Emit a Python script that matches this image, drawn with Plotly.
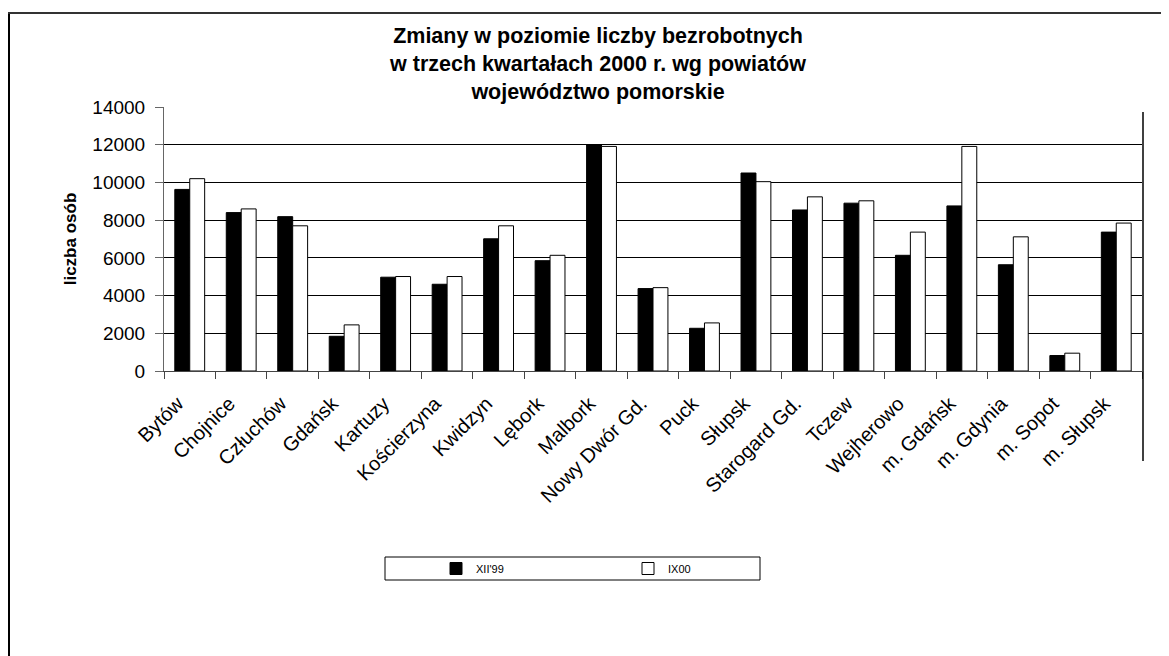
import plotly.graph_objects as go

categories = ["Bytów", "Chojnice", "Człuchów", "Gdańsk", "Kartuzy", "Kościerzyna",
              "Kwidzyn", "Lębork", "Malbork", "Nowy Dwór Gd.", "Puck", "Słupsk",
              "Starogard Gd.", "Tczew", "Wejherowo", "m. Gdańsk", "m. Gdynia",
              "m. Sopot", "m. Słupsk"]
xii_99 = [9630, 8400, 8185, 1840, 4975, 4600, 7010, 5850, 11990, 4370, 2265,
          10500, 8540, 8900, 6135, 8755, 5635, 820, 7365]
ix_00 = [10200, 8595, 7700, 2445, 5010, 5010, 7700, 6135, 11910, 4420, 2550,
         10040, 9235, 9025, 7365, 11910, 7115, 945, 7845]
series_names = ["XII'99", "IX00"]
y_ticks = [0, 2000, 4000, 6000, 8000, 10000, 12000, 14000]
title_lines = ["Zmiany w poziomie liczby bezrobotnych",
               "w trzech kwartałach 2000 r. wg powiatów",
               "województwo pomorskie"]
y_title = "liczba osób"

FONT = "Arial, Liberation Sans, sans-serif"

# page offset (default body margin of the html page)
OFF = 8
W, H = 1169, 656
# plot area in screen pixels
L, R, T, B = 164 - OFF, 1142 - OFF, 107 - OFF, 371 - OFF
pw, ph = R - L, B - T


def px(x):
    """screen x pixel -> paper coordinate"""
    return (x - OFF - L) / pw


def py(y):
    """screen y pixel -> paper coordinate"""
    return (B - (y - OFF)) / ph


fig = go.Figure()
fig.add_trace(go.Bar(x=categories, y=xii_99, name=series_names[0],
                     marker=dict(color="black", line=dict(color="black", width=1))))
fig.add_trace(go.Bar(x=categories, y=ix_00, name=series_names[1],
                     marker=dict(color="white", line=dict(color="black", width=1))))

fig.update_layout(
    width=W, height=H,
    margin=dict(l=L, r=W - R, t=T, b=H - B, autoexpand=False),
    paper_bgcolor="white", plot_bgcolor="white",
    barmode="group", bargap=0.42, bargroupgap=0.0,
    font=dict(family=FONT, color="black"),
    title=dict(text="<br>".join(title_lines), x=(598 - OFF) / W, xanchor="center",
               y=1 - (43 - OFF) / H, yanchor="top",
               font=dict(family=FONT, size=21.5, color="black", weight="bold")),
    showlegend=True,
    legend=dict(orientation="h", x=px(436), xanchor="left", y=py(568.5), yanchor="middle",
                borderwidth=0, bgcolor="rgba(0,0,0,0)",
                font=dict(family=FONT, size=11, color="black"),
                entrywidth=147, entrywidthmode="pixels", itemwidth=30,
                traceorder="normal"),
)

fig.update_xaxes(
    type="category", showgrid=False, showline=True, linecolor="#444", linewidth=1,
    ticks="outside", tickson="boundaries", ticklen=7, tickcolor="#444",
    tickangle=-45, tickfont=dict(family=FONT, size=20, color="black"),
    ticklabelshift=-12, ticklabelstandoff=12,
)
fig.update_yaxes(
    range=[0, 14000], tickvals=y_ticks, tickformat="d",
    showgrid=True, gridcolor="black", gridwidth=1,
    showline=True, linecolor="#666", linewidth=1, ticks="outside", ticklen=8,
    tickcolor="#666", ticklabelstandoff=6,
    tickfont=dict(family=FONT, size=19, color="black"),
    title=dict(text=y_title, standoff=11,
               font=dict(family=FONT, size=17, color="black", weight="bold")),
    zeroline=False,
)

# legend box
fig.add_shape(type="rect", xref="paper", yref="paper",
              x0=px(385), x1=px(760), y0=py(557), y1=py(580),
              line=dict(color="black", width=1), fillcolor="rgba(0,0,0,0)", layer="below")
# outer frame (left and top edges) and right vertical rule
fig.add_shape(type="line", xref="paper", yref="paper",
              x0=px(9), x1=px(9), y0=py(13), y1=py(H + 2), line=dict(color="black", width=2))
fig.add_shape(type="line", xref="paper", yref="paper",
              x0=px(8), x1=px(W + 2), y0=py(13), y1=py(13), line=dict(color="#333", width=2))
fig.add_shape(type="line", xref="paper", yref="paper",
              x0=px(1143), x1=px(1143), y0=py(112), y1=py(461), line=dict(color="black", width=1.5))

fig.write_html("out.html")
